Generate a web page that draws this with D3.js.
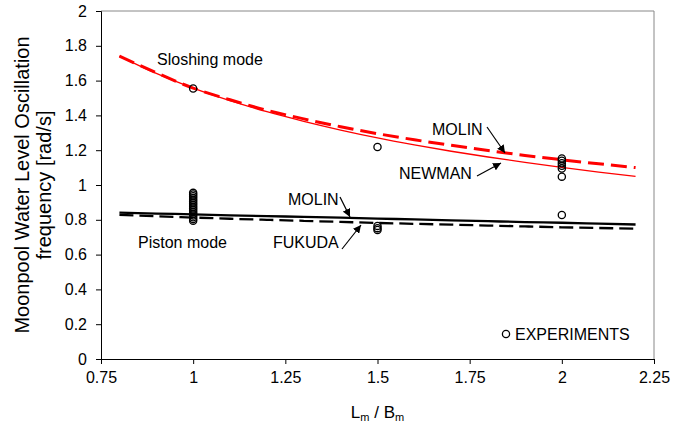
<!DOCTYPE html>
<html><head><meta charset="utf-8">
<script src="https://cdn.jsdelivr.net/npm/d3@7"></script>
<style>body{margin:0;background:#fff}svg{display:block;font-family:Arial,"Liberation Sans",sans-serif}</style>
</head><body><svg id="c" width="686" height="427"></svg>
<script>
const xTicks=[0.75,1,1.25,1.5,1.75,2,2.25];
const xTickLabels=["0.75","1","1.25","1.5","1.75","2","2.25"];
const yTicks=[0,0.2,0.4,0.6,0.8,1,1.2,1.4,1.6,1.8,2];
const yTickLabels=["0","0.2","0.4","0.6","0.8","1","1.2","1.4","1.6","1.8","2"];
const theoryX=[0.8,0.9,1.0,1.1,1.2,1.3,1.4,1.5,1.6,1.7,1.8,1.9,2.0,2.1,2.2];
const newmanSloshing=[1.741,1.641,1.557,1.485,1.421,1.366,1.316,1.271,1.231,1.194,1.161,1.130,1.101,1.074,1.050];
const molinSloshing=[1.741,1.645,1.557,1.490,1.430,1.380,1.335,1.295,1.260,1.228,1.198,1.170,1.145,1.122,1.100];
const molinPiston=[0.841,0.836,0.831,0.826,0.821,0.817,0.812,0.807,0.802,0.797,0.792,0.787,0.783,0.778,0.773];
const fukudaPiston=[0.828,0.820,0.813,0.806,0.800,0.794,0.788,0.782,0.777,0.772,0.767,0.762,0.757,0.753,0.749];
const expX=[1,1,1,1,1,1,1,1,1,1,1,1,1,1,1,1,1,1,
            1.5,1.5,1.5,1.5,
            2,2,2,2,2,2,2];
const expY=[1.555,0.955,0.945,0.935,0.925,0.915,0.905,0.895,0.885,0.875,0.865,0.855,0.845,0.835,0.825,0.815,0.805,0.795,
            1.218,0.765,0.752,0.742,
            1.152,1.140,1.125,1.110,1.095,1.048,0.828];

const W=686,H=427, m={l:101,t:11,r:32,b:68};
const svg=d3.select("#c");
const x=d3.scaleLinear().domain([0.75,2.25]).range([m.l,W-m.r]);
const y=d3.scaleLinear().domain([0,2]).range([H-m.b,m.t]);
const FS="16px";

// frame top/right
svg.append("path").attr("d",`M${x(0.75)},${y(2)}H${x(2.25)}V${y(0)}`).attr("fill","none").attr("stroke","#888").attr("stroke-width",1);

const xa=svg.append("g").attr("transform",`translate(0,${y(0)})`)
  .call(d3.axisBottom(x).tickValues(xTicks).tickFormat((d,i)=>xTickLabels[i]).tickSizeOuter(0).tickSize(5).tickPadding(8));
const ya=svg.append("g").attr("transform",`translate(${x(0.75)},0)`)
  .call(d3.axisLeft(y).tickValues(yTicks).tickFormat((d,i)=>yTickLabels[i]).tickSizeOuter(0).tickSize(5).tickPadding(9));
[xa,ya].forEach(g=>{g.selectAll("path,line").attr("stroke","#000");g.selectAll("text").attr("font-size",FS).attr("fill","#000").attr("font-family","Arial, Liberation Sans, sans-serif");});

const line=d3.line().x((d,i)=>x(theoryX[i])).y(d=>y(d)).curve(d3.curveMonotoneX);
svg.append("path").attr("d",line(newmanSloshing)).attr("fill","none").attr("stroke","#ff0000").attr("stroke-width",1.3);
svg.append("path").attr("d",line(molinSloshing)).attr("fill","none").attr("stroke","#ff0000").attr("stroke-width",3).attr("stroke-dasharray","16,7");
svg.append("path").attr("d",line(molinPiston)).attr("fill","none").attr("stroke","#000").attr("stroke-width",2.3);
svg.append("path").attr("d",line(fukudaPiston)).attr("fill","none").attr("stroke","#000").attr("stroke-width",2.3).attr("stroke-dasharray","14,6");

svg.append("g").selectAll("circle").data(expY).join("circle")
  .attr("cx",(d,i)=>x(expX[i])).attr("cy",d=>y(d)).attr("r",3.6)
  .attr("fill","none").attr("stroke","#000").attr("stroke-width",1.3);

// arrows
svg.append("defs").append("marker").attr("id","ah").attr("viewBox","0 0 10 10").attr("refX",10).attr("refY",5)
  .attr("markerWidth",8).attr("markerHeight",8).attr("markerUnits","userSpaceOnUse").attr("orient","auto")
  .append("path").attr("d","M0,0L10,5L0,10z").attr("fill","#000");
const arrows=[[487,127,505,153],[477,176,501,163],[340,197,350,217],[342,249,361,225]];
arrows.forEach(a=>svg.append("line").attr("x1",a[0]).attr("y1",a[1]).attr("x2",a[2]).attr("y2",a[3])
  .attr("stroke","#000").attr("stroke-width",1.2).attr("marker-end","url(#ah)"));

const txt=(t,px,py,anchor)=>svg.append("text").attr("x",px).attr("y",py).attr("font-size",FS).attr("text-anchor",anchor||"start").text(t);
txt("Sloshing mode",157,65);
txt("MOLIN",432,135);
txt("NEWMAN",399,179);
txt("MOLIN",288,205);
txt("Piston mode",138,248);
txt("FUKUDA",273,248);
txt("EXPERIMENTS",515,340);
svg.append("circle").attr("cx",506).attr("cy",334).attr("r",3.6).attr("fill","none").attr("stroke","#000").attr("stroke-width",1.3);

// axis titles
const yt=svg.append("text").attr("transform",`translate(29,${(y(0)+y(2))/2}) rotate(-90)`).attr("text-anchor","middle").attr("font-size","20px");
yt.append("tspan").attr("x",0).attr("dy",0).text("Moonpool Water Level Oscillation");
yt.append("tspan").attr("x",0).attr("dy",22).text("frequency [rad/s]");
const xt=svg.append("text").attr("x",(x(0.75)+x(2.25))/2).attr("y",418).attr("text-anchor","middle").attr("font-size","17px");
xt.append("tspan").text("L");
xt.append("tspan").attr("font-size","11px").attr("dy",3).text("m");
xt.append("tspan").attr("dy",-3).text(" / B");
xt.append("tspan").attr("font-size","11px").attr("dy",3).text("m");
</script></body></html>
